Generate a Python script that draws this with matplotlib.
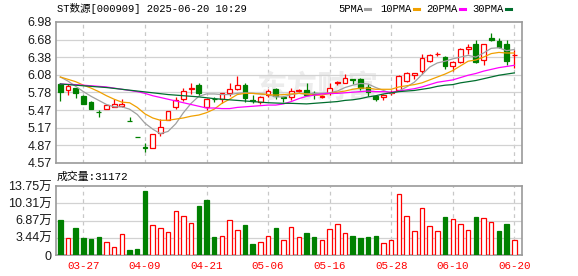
import numpy as np
import matplotlib
matplotlib.use('Agg')
import matplotlib.pyplot as plt
from matplotlib.lines import Line2D

plt.rcParams['font.family'] = ['Liberation Sans', 'Noto Sans CJK SC']

# trading days shown (index 0..59)
dates = ['03-24', '03-25', '03-26', '03-27', '03-28', '03-31', '04-01', '04-02', '04-03', '04-07',
         '04-08', '04-09', '04-10', '04-11', '04-14', '04-15', '04-16', '04-17', '04-18', '04-21',
         '04-22', '04-23', '04-24', '04-25', '04-28', '04-29', '04-30', '05-06', '05-07', '05-08',
         '05-09', '05-12', '05-13', '05-14', '05-15', '05-16', '05-19', '05-20', '05-21', '05-22',
         '05-23', '05-26', '05-27', '05-28', '05-29', '05-30', '06-03', '06-04', '06-05', '06-06',
         '06-09', '06-10', '06-11', '06-12', '06-13', '06-16', '06-17', '06-18', '06-19', '06-20']
tick_dates = ['03-27', '04-09', '04-21', '05-06', '05-16', '05-28', '06-10', '06-20']

opens = [5.92, 5.81, 5.85, 5.71, 5.61, 5.45, 5.49, 5.53, 5.54, 5.29,
         5.02, 4.84, 4.82, 5.08, 5.31, 5.52, 5.66, 5.83, 5.91, 5.52,
         5.67, 5.66, 5.76, 5.83, 5.91, 5.64, 5.61, 5.73, 5.83, 5.69,
         5.69, 5.80, 5.82, 5.76, 5.70, 5.76, 5.94, 5.93, 6.00, 6.00,
         5.87, 5.71, 5.69, 5.77, 5.82, 5.98, 6.07, 6.14, 6.31, 6.43,
         6.38, 6.22, 6.29, 6.52, 6.60, 6.33, 6.71, 6.65, 6.60, 6.41]
closes = [5.79, 5.89, 5.77, 5.58, 5.50, 5.44, 5.56, 5.57, 5.58, 5.28,
          5.01, 4.83, 5.07, 5.18, 5.46, 5.65, 5.80, 5.86, 5.77, 5.66,
          5.66, 5.76, 5.84, 5.91, 5.68, 5.63, 5.70, 5.80, 5.71, 5.68,
          5.80, 5.81, 5.74, 5.75, 5.71, 5.85, 5.95, 6.02, 5.99, 5.86,
          5.78, 5.66, 5.74, 5.78, 6.05, 6.10, 6.10, 6.36, 6.42, 6.44,
          6.22, 6.29, 6.52, 6.56, 6.30, 6.60, 6.67, 6.56, 6.31, 6.42]
highs = [5.93, 5.92, 5.86, 5.74, 5.63, 5.48, 5.56, 5.66, 5.66, 5.36,
         5.02, 4.91, 5.07, 5.33, 5.46, 5.70, 5.85, 5.93, 5.93, 5.68,
         5.69, 5.77, 5.93, 6.06, 5.93, 5.73, 5.72, 5.83, 5.86, 5.72,
         5.85, 5.83, 5.94, 5.80, 5.74, 5.93, 5.97, 6.09, 6.01, 6.02,
         5.92, 5.73, 5.75, 5.81, 6.07, 6.13, 6.11, 6.43, 6.44, 6.47,
         6.40, 6.31, 6.54, 6.60, 6.67, 6.61, 6.79, 6.71, 6.67, 6.50]
lows = [5.63, 5.74, 5.68, 5.57, 5.49, 5.36, 5.49, 5.52, 5.53, 5.28,
        5.01, 4.75, 4.82, 5.04, 5.30, 5.49, 5.63, 5.75, 5.71, 5.47,
        5.62, 5.59, 5.72, 5.82, 5.61, 5.60, 5.58, 5.69, 5.66, 5.62,
        5.65, 5.79, 5.73, 5.67, 5.68, 5.73, 5.91, 5.93, 5.92, 5.81,
        5.71, 5.63, 5.64, 5.74, 5.80, 5.96, 6.01, 6.09, 6.30, 6.40,
        6.17, 6.15, 6.28, 6.44, 6.28, 6.24, 6.65, 6.53, 6.24, 6.19]

# moving averages
ma5 = [6.04, 5.97, 5.88, 5.79, 5.71, 5.64, 5.57, 5.53, 5.53, 5.49,
       5.40, 5.25, 5.15, 5.07, 5.11, 5.24, 5.43, 5.59, 5.71, 5.75,
       5.75, 5.74, 5.74, 5.76, 5.77, 5.76, 5.75, 5.74, 5.70, 5.70,
       5.74, 5.76, 5.75, 5.76, 5.76, 5.77, 5.80, 5.86, 5.90, 5.93,
       5.92, 5.86, 5.81, 5.76, 5.80, 5.87, 5.95, 6.08, 6.21, 6.28,
       6.31, 6.35, 6.38, 6.41, 6.38, 6.45, 6.53, 6.54, 6.49, 6.51]
ma10 = [6.04, 6.00, 5.96, 5.90, 5.85, 5.79, 5.72, 5.66, 5.61, 5.60,
        5.52, 5.41, 5.34, 5.30, 5.30, 5.32, 5.34, 5.37, 5.39, 5.43,
        5.49, 5.59, 5.66, 5.74, 5.76, 5.76, 5.75, 5.74, 5.73, 5.74,
        5.75, 5.76, 5.75, 5.73, 5.73, 5.76, 5.78, 5.80, 5.83, 5.85,
        5.85, 5.83, 5.83, 5.83, 5.87, 5.89, 5.91, 5.94, 5.99, 6.04,
        6.09, 6.15, 6.23, 6.31, 6.33, 6.38, 6.44, 6.46, 6.45, 6.45]
ma20 = [5.92, 5.915, 5.91, 5.90, 5.89, 5.88, 5.87, 5.85, 5.83, 5.81,
        5.79, 5.76, 5.72, 5.69, 5.66, 5.63, 5.60, 5.57, 5.54, 5.51,
        5.51, 5.50, 5.50, 5.52, 5.53, 5.54, 5.55, 5.56, 5.56, 5.58,
        5.62, 5.67, 5.71, 5.73, 5.75, 5.76, 5.76, 5.77, 5.78, 5.79,
        5.80, 5.79, 5.79, 5.78, 5.80, 5.82, 5.84, 5.87, 5.91, 5.95,
        5.97, 5.99, 6.03, 6.07, 6.10, 6.14, 6.17, 6.20, 6.22, 6.24]
ma30 = [5.92, 5.91, 5.90, 5.89, 5.88, 5.87, 5.86, 5.845, 5.83, 5.815,
        5.80, 5.785, 5.77, 5.755, 5.74, 5.73, 5.72, 5.71, 5.70, 5.685,
        5.67, 5.66, 5.65, 5.64, 5.63, 5.62, 5.61, 5.60, 5.595, 5.59,
        5.59, 5.585, 5.58, 5.59, 5.60, 5.61, 5.62, 5.64, 5.65, 5.67,
        5.70, 5.72, 5.75, 5.77, 5.79, 5.80, 5.81, 5.83, 5.85, 5.88,
        5.90, 5.91, 5.94, 5.96, 5.98, 6.01, 6.04, 6.07, 6.09, 6.11]

# volume in 万 shares, and whether its bar is red (1) or green (0)
volumes = [6.91, 3.46, 5.32, 3.33, 3.13, 3.53, 2.53, 1.67, 4.26, 0.94,
           1.14, 12.69, 5.92, 5.45, 4.52, 8.70, 7.71, 6.31, 9.76, 10.90,
           3.56, 3.75, 6.91, 4.92, 5.92, 2.13, 2.53, 3.72, 5.32, 2.93,
           5.52, 3.53, 4.32, 3.53, 2.93, 5.26, 6.12, 4.32, 3.72, 3.33,
           3.53, 3.72, 2.33, 2.93, 12.09, 7.71, 4.72, 9.30, 5.72, 4.72,
           7.51, 7.11, 6.12, 4.92, 7.51, 7.31, 6.51, 4.72, 6.12, 2.93]
vol_red = [0, 1, 0, 0, 0, 0, 1, 1, 1, 0,
           0, 0, 1, 1, 1, 1, 1, 1, 0, 0,
           0, 1, 1, 1, 0, 0, 1, 1, 0, 1,
           1, 1, 0, 0, 1, 1, 1, 1, 0, 0,
           0, 0, 1, 1, 1, 1, 1, 1, 1, 1,
           0, 1, 1, 1, 0, 1, 1, 0, 0, 1]

price_ticks = [6.98, 6.68, 6.38, 6.08, 5.78, 5.47, 5.17, 4.87, 4.57]
vol_ticks = [0, 3.44, 6.87, 10.31, 13.75]
vol_tick_labels = ['0', '3.44万', '6.87万', '10.31万', '13.75万']

ma_names = ['5PMA', '10PMA', '20PMA', '30PMA']
ma_colors = ['#a0a0a0', '#f0a000', '#ff00ff', '#006e2e']

RED = '#ff0000'
GREEN = '#008000'
BORDER = '#9a9a9a'
GRID = '#d2d2d2'

o = np.array(opens); c = np.array(closes)
x = np.arange(len(dates))
up = c >= o
ccol = np.where(up, RED, GREEN)

fig = plt.figure(figsize=(5.78, 2.76), dpi=100)
ax = fig.add_axes([56/578, 1-163/276, 466/578, 141/276])
axv = fig.add_axes([56/578, 1-255/276, 466/578, 69/276])

tick_pos = [dates.index(d) for d in tick_dates]

for a in (ax, axv):
    a.set_xlim(-0.56, 60.0)
    for s in a.spines.values():
        s.set_color(BORDER)
        s.set_linewidth(1.2)
    for p in tick_pos:
        a.axvline(p, color='#c8c8c8', lw=0.9, ls=(0, (3, 3)), zorder=0)
    a.tick_params(length=0)

# watermark
ax.text(0.56, 0.53, '东方财富', transform=ax.transAxes, fontsize=22,
        color='#ececec', fontweight='bold', ha='center', va='center', zorder=0)

# price panel
ax.set_ylim(4.57, 6.98)
ax.set_yticks(price_ticks)
ax.set_yticklabels(['%.2f' % v for v in price_ticks], fontsize=9, color='#1a1a1a')
ax.tick_params(axis='y', pad=3)
ax.set_xticks([])
for v in price_ticks[1:-1]:
    ax.axhline(v, color=GRID, lw=0.9, zorder=0)

ax.vlines(x, lows, highs, colors=ccol, lw=0.9, zorder=2)
ax.bar(x, np.maximum(np.abs(c - o), 0.004), bottom=np.minimum(o, c), width=0.62,
       color=np.where(up, 'white', GREEN), edgecolor=ccol, linewidth=0.9, zorder=3)

for vals, col in zip([ma5, ma10, ma20, ma30], ma_colors):
    ax.plot(x, vals, color=col, lw=0.9, zorder=4)

# volume panel
axv.set_ylim(0, 13.75)
axv.set_yticks(vol_ticks)
axv.set_yticklabels(vol_tick_labels, fontsize=9, color='#1a1a1a')
axv.tick_params(axis='y', pad=3)
for v in vol_ticks[1:-1]:
    axv.axhline(v, color=GRID, lw=0.9, zorder=0)
vr = np.array(vol_red) == 1
vcol = np.where(vr, RED, GREEN)
axv.bar(x, volumes, width=0.58, color=np.where(vr, 'white', GREEN),
        edgecolor=vcol, linewidth=0.9, zorder=3)
axv.set_xticks(tick_pos)
axv.set_xticklabels(tick_dates, fontsize=7.8, color=RED,
                    family=['Liberation Mono', 'Noto Sans CJK SC'])
axv.tick_params(axis='x', pad=4)

# header texts
fig.text(57/578, 1-9/276, 'ST数源[000909] 2025-06-20 10:29', fontsize=7.6,
         family=['Liberation Mono', 'Noto Sans CJK SC'], va='center', ha='left')
fig.text(57/578, 1-177/276, '成交量:31172', fontsize=7.8,
         family=['Liberation Mono', 'Noto Sans CJK SC'], va='center', ha='left')

# MA legend
leg_x = [338, 380, 426, 472]
for lx, name, col in zip(leg_x, ma_names, ma_colors):
    t = fig.text(lx/578, 1-9/276, name, fontsize=7.6,
                 family=['Liberation Mono'], va='center', ha='left')
    w = len(name) * 6.1
    fig.add_artist(Line2D([(lx+w+3)/578, (lx+w+8)/578], [1-9/276, 1-9/276],
                          color=col, lw=2.2, transform=fig.transFigure))

fig.savefig('out.png', dpi=100)
